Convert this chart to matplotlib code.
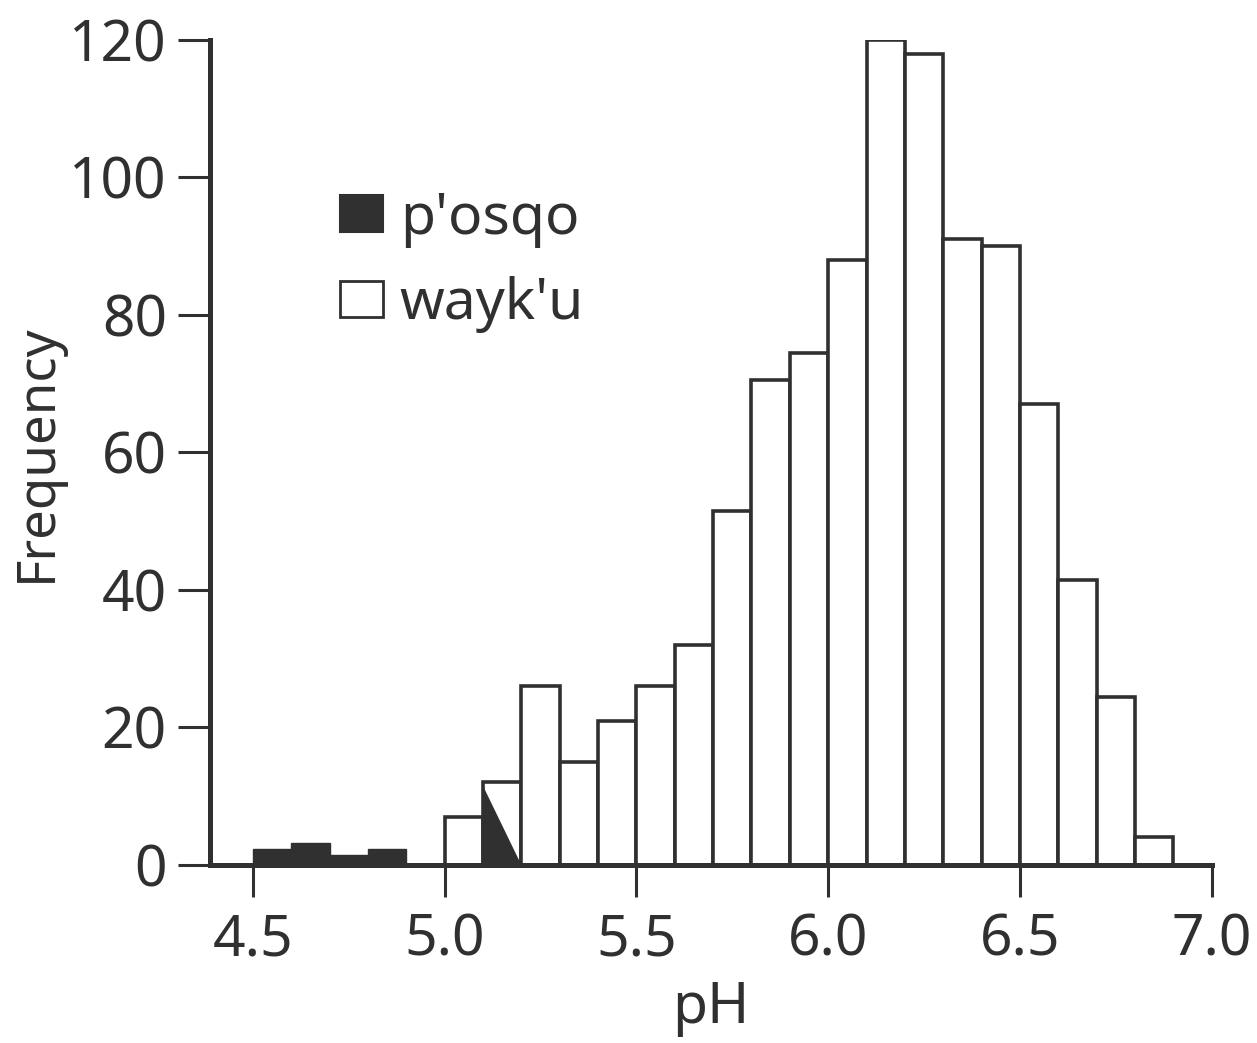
import matplotlib.pyplot as plt
from matplotlib.patches import Patch

ink = '#303030'

# bin left edges (width 0.1)
posqo_bins = [4.5, 4.6, 4.7, 4.8]
posqo_freq = [2.3, 3.2, 1.5, 2.3]
# shared bin 5.1-5.2: p'osqo drawn as a triangle inside the wayk'u bar
posqo_shared_bin = 5.1
posqo_shared_freq = 11.5

wayku_bins = [5.0, 5.1, 5.2, 5.3, 5.4, 5.5, 5.6, 5.7, 5.8, 5.9, 6.0,
              6.1, 6.2, 6.3, 6.4, 6.5, 6.6, 6.7, 6.8]
wayku_freq = [7, 12, 26, 15, 21, 26, 32, 51.5, 70.5, 74.5, 88,
              120, 118, 91, 90, 67, 41.5, 24.5, 4]

bin_width = 0.1
xticks = [4.5, 5.0, 5.5, 6.0, 6.5, 7.0]
yticks = [0, 20, 40, 60, 80, 100, 120]

plt.rcParams['font.family'] = ['Noto Sans', 'DejaVu Sans']

fig = plt.figure(figsize=(12.57, 10.43), dpi=100)
ax = fig.add_axes([0.167, 0.1707, 0.797, 0.791])

ax.bar(wayku_bins, wayku_freq, width=bin_width, align='edge',
       facecolor='white', edgecolor=ink, linewidth=2.6, zorder=2)
ax.bar(posqo_bins, posqo_freq, width=bin_width, align='edge',
       facecolor=ink, edgecolor=ink, linewidth=1.0, zorder=2)
ax.fill([posqo_shared_bin, posqo_shared_bin, posqo_shared_bin + bin_width],
        [0, posqo_shared_freq, 0], color=ink, linewidth=0, zorder=3)

ax.set_xlim(4.388, 7.0)
ax.set_ylim(0, 120)
ax.set_xticks(xticks)
ax.set_xticklabels(['%.1f' % t for t in xticks])
ax.set_yticks(yticks)

for s in ['top', 'right']:
    ax.spines[s].set_visible(False)
for s in ['left', 'bottom']:
    ax.spines[s].set_linewidth(3.6)
    ax.spines[s].set_color(ink)
    ax.spines[s].set_zorder(4)

ax.tick_params(axis='both', direction='out', length=23, width=2.2,
               color=ink, labelsize=41, labelcolor=ink)
ax.tick_params(axis='y', pad=8)
ax.tick_params(axis='x', pad=11)

ax.set_xlabel('pH', fontsize=41, color=ink, labelpad=8)
ax.set_ylabel('Frequency', fontsize=38, color=ink, labelpad=4)

handles = [Patch(facecolor=ink, edgecolor=ink, linewidth=1.5),
           Patch(facecolor='white', edgecolor=ink, linewidth=2.0)]
ax.legend(handles, ["p'osqo", "wayk'u"], loc='upper left',
          bbox_to_anchor=(0.107, 0.845), frameon=False, fontsize=41,
          labelcolor=ink, handlelength=0.75, handleheight=0.6,
          handletextpad=0.3, labelspacing=0.5, borderaxespad=0)

fig.savefig('out.png', dpi=100)
